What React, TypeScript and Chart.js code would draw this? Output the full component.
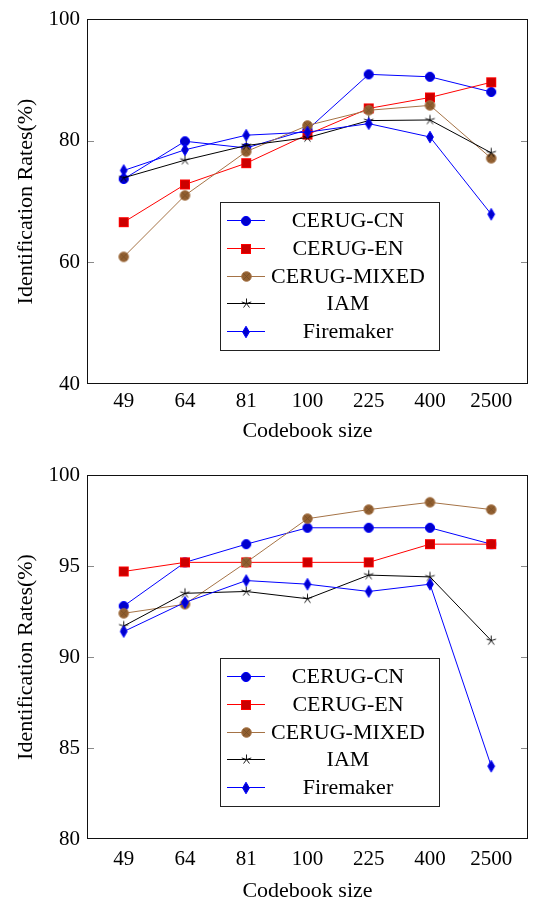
import React, { useEffect, useRef } from "react";
import { Chart, registerables } from "chart.js";

Chart.register(...registerables);

// ---------- data ----------
const categories = ["49", "64", "81", "100", "225", "400", "2500"];
const seriesNames = ["CERUG-CN", "CERUG-EN", "CERUG-MIXED", "IAM", "Firemaker"];

const topCN = [73.7, 79.9, 78.8, 81.8, 90.9, 90.5, 88.0];
const topEN = [66.6, 72.8, 76.3, 81.0, 85.3, 87.1, 89.6];
const topMIXED = [60.9, 71.0, 78.2, 82.5, 85.0, 85.8, 77.1];
const topIAM = [73.9, 76.8, 79.2, 80.5, 83.3, 83.4, 78.0];
const topFiremaker = [75.1, 78.5, 80.9, 81.4, 82.8, 80.6, 67.9];

const bottomCN = [92.8, 95.2, 96.2, 97.1, 97.1, 97.1, 96.2];
const bottomEN = [94.7, 95.2, 95.2, 95.2, 95.2, 96.2, 96.2];
const bottomMIXED = [92.4, 92.9, 95.2, 97.6, 98.1, 98.5, 98.1];
const bottomIAM = [91.7, 93.5, 93.6, 93.2, 94.5, 94.4, 90.9];
const bottomFiremaker = [91.4, 93.0, 94.2, 94.0, 93.6, 94.0, 84.0];

const topYTicks = [40, 60, 80, 100];
const bottomYTicks = [80, 85, 90, 95, 100];

const yTitle = "Identification Rates(%)";
const xTitle = "Codebook size";

// ---------- styles ----------
const FONT = "'Liberation Serif', 'Times New Roman', serif";
const lineColors = ["#0000ff", "#ff0000", "rgb(165,115,70)", "#000000", "#0000ff"];

function makeCanvas(w: number, h: number) {
  const c = document.createElement("canvas");
  c.width = w;
  c.height = h;
  return c;
}

function makeMarkers(): HTMLCanvasElement[] {
  // circle
  const circ = makeCanvas(12, 12);
  let g = circ.getContext("2d")!;
  g.beginPath();
  g.arc(6, 6, 4.6, 0, Math.PI * 2);
  g.fillStyle = "rgb(0,0,204)";
  g.fill();
  g.strokeStyle = "#0000ff";
  g.lineWidth = 1;
  g.stroke();

  // square
  const sq = makeCanvas(12, 12);
  g = sq.getContext("2d")!;
  g.fillStyle = "rgb(204,0,0)";
  g.fillRect(1.5, 1.5, 9, 9);
  g.strokeStyle = "#ff0000";
  g.lineWidth = 1;
  g.strokeRect(1.5, 1.5, 9, 9);

  // otimes
  const ot = makeCanvas(13, 13);
  g = ot.getContext("2d")!;
  g.beginPath();
  g.arc(6.5, 6.5, 4.8, 0, Math.PI * 2);
  g.fillStyle = "rgb(145,95,48)";
  g.fill();
  g.strokeStyle = "rgb(165,115,70)";
  g.lineWidth = 1;
  g.stroke();
  g.beginPath();
  const d = 3.4;
  g.moveTo(6.5 - d, 6.5 - d);
  g.lineTo(6.5 + d, 6.5 + d);
  g.moveTo(6.5 + d, 6.5 - d);
  g.lineTo(6.5 - d, 6.5 + d);
  g.strokeStyle = "rgba(115,75,38,0.9)";
  g.lineWidth = 0.8;
  g.stroke();

  // star (5 spokes)
  const st = makeCanvas(13, 13);
  g = st.getContext("2d")!;
  g.beginPath();
  for (let k = 0; k < 5; k++) {
    const ang = -Math.PI / 2 + (k * 2 * Math.PI) / 5;
    g.moveTo(6.5, 6.5);
    g.lineTo(6.5 + 5 * Math.cos(ang), 6.5 + 5 * Math.sin(ang));
  }
  g.strokeStyle = "#000";
  g.lineWidth = 0.9;
  g.stroke();

  // diamond (tall)
  const dm = makeCanvas(10, 14);
  g = dm.getContext("2d")!;
  g.beginPath();
  g.moveTo(5, 1.2);
  g.lineTo(8.4, 7);
  g.lineTo(5, 12.8);
  g.lineTo(1.6, 7);
  g.closePath();
  g.fillStyle = "rgb(0,0,204)";
  g.fill();
  g.strokeStyle = "#0000ff";
  g.lineWidth = 1;
  g.stroke();

  return [circ, sq, ot, st, dm];
}

const frameLegendPlugin = {
  id: "frameLegend",
  beforeDatasetsDraw(chart: any) {
    const { ctx, chartArea: a } = chart;
    const y = chart.scales.y;
    ctx.save();
    ctx.strokeStyle = "#8a8a8a";
    ctx.lineWidth = 1;
    ctx.beginPath();
    y.ticks.forEach((t: any) => {
      let p = Math.round(y.getPixelForValue(t.value)) + 0.5;
      p = Math.max(a.top + 0.5, Math.min(p, a.bottom - 0.5));
      ctx.moveTo(a.left, p);
      ctx.lineTo(a.left + 7, p);
      ctx.moveTo(a.right - 7, p);
      ctx.lineTo(a.right, p);
    });
    ctx.stroke();
    ctx.strokeStyle = "#111";
    ctx.lineWidth = 1;
    ctx.strokeRect(a.left + 0.5, a.top + 0.5, a.right - a.left - 1, a.bottom - a.top - 1);
    ctx.restore();
  },
  afterDatasetsDraw(chart: any) {
    const { ctx, chartArea: a } = chart;
    const markers: HTMLCanvasElement[] = chart.options.plugins.frameLegend.markers;
    const bx = a.left + 133;
    const by = a.top + 183;
    const bw = 219;
    const bh = 148;
    ctx.save();
    ctx.fillStyle = "#fff";
    ctx.fillRect(bx, by, bw, bh);
    ctx.strokeStyle = "#222";
    ctx.lineWidth = 1;
    ctx.strokeRect(bx + 0.5, by + 0.5, bw, bh);
    ctx.font = `22px ${FONT}`;
    ctx.textAlign = "center";
    ctx.textBaseline = "middle";
    seriesNames.forEach((name, i) => {
      const ry = Math.round(by + 18 + i * 27.75) + 0.5;
      ctx.beginPath();
      ctx.strokeStyle = lineColors[i];
      ctx.moveTo(bx + 7, ry);
      ctx.lineTo(bx + 45, ry);
      ctx.stroke();
      const m = markers[i];
      ctx.drawImage(m, Math.round(bx + 26 - m.width / 2), Math.round(ry - m.height / 2));
      ctx.fillStyle = "#000";
      ctx.fillText(name, bx + 128, ry + 1);
    });
    ctx.restore();
  },
};

type PanelProps = {
  series: number[][];
  yTicks: number[];
  height: number;
  top: number;
  padTop: number;
  xHeight: number;
  xPad: number;
  titlePadBottom: number;
};

function Panel({ series, yTicks, height, top, padTop, xHeight, xPad, titlePadBottom }: PanelProps) {
  const ref = useRef<HTMLCanvasElement | null>(null);
  useEffect(() => {
    if (!ref.current) return;
    const markers = makeMarkers();
    const tickFont = { family: FONT, size: 21, lineHeight: 1 };
    const titleFont = { family: FONT, size: 22, lineHeight: 1 };
    const chart = new Chart(ref.current, {
      type: "line",
      data: {
        datasets: series.map((s, i) => ({
          label: seriesNames[i],
          data: s.map((v, j) => ({ x: j, y: v })),
          borderColor: lineColors[i],
          backgroundColor: lineColors[i],
          borderWidth: 1,
          pointStyle: markers[i] as any,
          pointRadius: 5,
          tension: 0,
          fill: false,
          order: 4 - i,
        })),
      },
      options: {
        responsive: false,
        animation: false,
        events: [],
        layout: { padding: { top: padTop, right: 6, left: 0, bottom: 0 } },
        plugins: {
          legend: { display: false },
          tooltip: { enabled: false },
          frameLegend: { markers },
        } as any,
        scales: {
          x: {
            type: "linear",
            min: -0.6,
            max: 6.6,
            grid: { display: false, drawTicks: false },
            border: { display: false },
            afterBuildTicks: (s: any) => {
              s.ticks = categories.map((_, i) => ({ value: i }));
            },
            ticks: {
              callback: (v: any) => categories[v] ?? "",
              font: tickFont,
              color: "#000",
              padding: xPad,
              maxRotation: 0,
              autoSkip: false,
            },
            title: {
              display: true,
              text: xTitle,
              font: titleFont,
              color: "#000",
              padding: { top: 0, bottom: titlePadBottom },
            },
            afterFit: (s: any) => {
              s.height = xHeight;
            },
          },
          y: {
            type: "linear",
            min: yTicks[0],
            max: yTicks[yTicks.length - 1],
            grid: { display: false, drawTicks: false },
            border: { display: false },
            afterBuildTicks: (s: any) => {
              s.ticks = yTicks.map((v) => ({ value: v }));
            },
            ticks: { font: tickFont, color: "#000", padding: 7 },
            title: {
              display: true,
              text: yTitle,
              font: titleFont,
              color: "#000",
              padding: { top: 15, bottom: 0 },
            },
            afterFit: (s: any) => {
              s.width = 87;
            },
          },
        },
      } as any,
      plugins: [frameLegendPlugin],
    });
    return () => chart.destroy();
  }, []);
  return (
    <div style={{ position: "absolute", left: 0, top, width: 534, height }}>
      <canvas ref={ref} width={534} height={height} style={{ display: "block" }} />
    </div>
  );
}

export default function App() {
  return (
    <div
      style={{
        position: "absolute",
        left: 0,
        top: 0,
        width: 534,
        height: 897,
        overflow: "hidden",
        background: "#fff",
      }}
    >
      <Panel
        series={[topCN, topEN, topMIXED, topIAM, topFiremaker]}
        yTicks={topYTicks}
        height={445}
        top={0}
        padTop={19}
        xHeight={61}
        xPad={7}
        titlePadBottom={3}
      />
      <Panel
        series={[bottomCN, bottomEN, bottomMIXED, bottomIAM, bottomFiremaker]}
        yTicks={bottomYTicks}
        height={452}
        top={445}
        padTop={30}
        xHeight={58}
        xPad={10}
        titlePadBottom={-5}
      />
    </div>
  );
}
